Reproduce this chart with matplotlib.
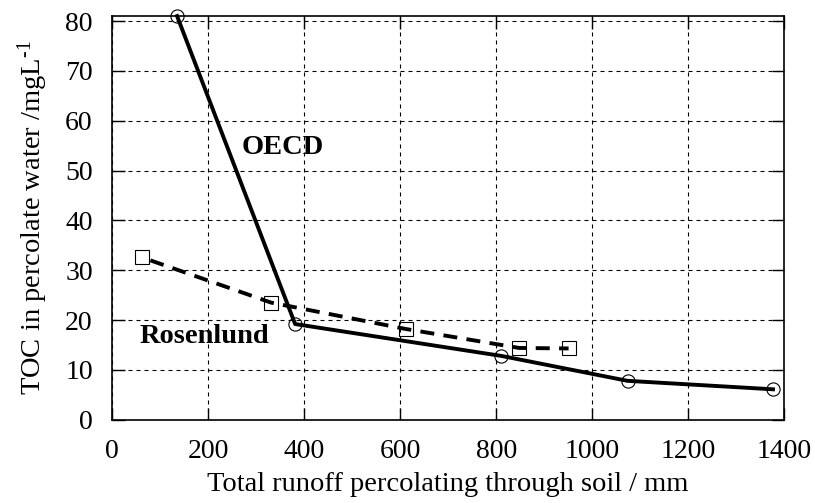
import matplotlib
matplotlib.use("Agg")
import matplotlib.pyplot as plt

plt.rcParams['font.family'] = ['Liberation Serif', 'DejaVu Serif']
plt.rcParams['mathtext.default'] = 'regular'

# OECD series
oecd_x = [135, 381, 811, 1074, 1377]
oecd_y = [81.0, 19.2, 12.8, 7.8, 6.1]

# Rosenlund series
ros_x = [61, 331, 612, 848, 951]
ros_y = [32.6, 23.5, 18.2, 14.4, 14.3]

xticks = [0, 200, 400, 600, 800, 1000, 1200, 1400]
yticks = [0, 10, 20, 30, 40, 50, 60, 70, 80]

fig = plt.figure(figsize=(8.15, 5.03), dpi=100)
ax = fig.add_axes([0.1378, 0.1656, 0.9620 - 0.1378, 0.968 - 0.1656])

ax.plot(oecd_x, oecd_y, color='black', lw=2.8, solid_joinstyle='round',
        marker='o', ms=9.5, mfc='none', mec='black', mew=0.8, clip_on=False, zorder=3)
ax.plot(ros_x, ros_y, color='black', lw=2.8, linestyle=(3.6, (3.6, 2.4)),
        marker='s', ms=10.5, mfc='none', mec='black', mew=0.8, clip_on=False, zorder=3)

ax.text(270, 54.7, 'OECD', fontsize=20.5, fontweight='bold', va='center', ha='left')
ax.text(56, 16.7, 'Rosenlund', fontsize=20.5, fontweight='bold', va='center', ha='left')

ax.set_xlim(0, 1400)
ax.set_ylim(0, 81)
ax.set_xticks(xticks)
ax.set_yticks(yticks)
ax.tick_params(direction='in', length=9, width=1, top=True, right=True,
               labelsize=20, pad=14)
ax.grid(True, color='black', lw=0.8, linestyle=(0, (3.6, 3.6)))
for s in ax.spines.values():
    s.set_linewidth(1.2)

ax.set_xlabel('Total runoff percolating through soil / mm', fontsize=20.5, labelpad=6)
ax.set_ylabel('TOC in percolate water /mgL$^{\u2010 1}$', fontsize=20.5, labelpad=11)

fig.savefig('out.png', dpi=100)
